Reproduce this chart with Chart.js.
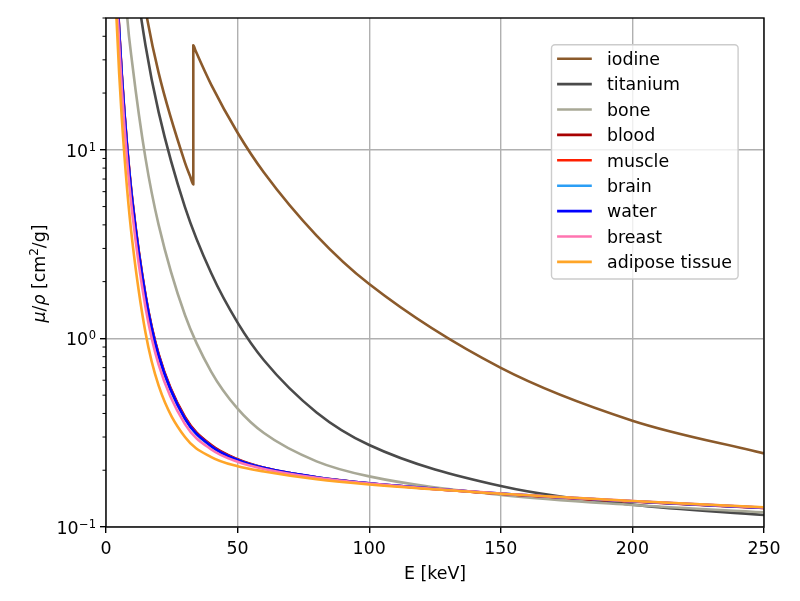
<!DOCTYPE html>
<html>
<head>
<meta charset="utf-8">
<script src="https://cdn.jsdelivr.net/npm/chart.js@4/dist/chart.umd.min.js"></script>
<style>
  html, body { margin: 0; padding: 0; background: #fff; }
  #wrap { width: 800px; height: 601px; position: relative; }
</style>
</head>
<body>
<div id="wrap"><canvas id="chart"></canvas></div>
<script>
// mass attenuation coefficient mu/rho [cm2/g] vs photon energy [keV]
const energy = [3, 4, 5, 6, 8, 10, 15, 20, 30, 40, 50, 60, 80, 100, 150, 200, 250];

// iodine has its K-edge at 33.17 keV, so it gets its own energy grid
const energyIodine = [10, 15, 20, 30, 32, 33.17, 33.17, 34, 40, 50, 60, 80, 100, 150, 200, 250];
const iodine = [162.6, 55.5, 25.59, 8.561, 7.22, 6.55, 35.8, 33.6, 22.1, 12.32, 7.579, 3.51, 1.942, 0.6978, 0.3663, 0.2456];

const titanium = [390, 210, 684, 431, 202, 111, 35.87, 15.85, 4.972, 2.214, 1.213, 0.7661, 0.4052, 0.2721, 0.1649, 0.1314, 0.1158];
const bone     = [330, 160, 270, 160, 51.8, 28.51, 9.032, 4.001, 1.331, 0.6655, 0.4242, 0.3148, 0.2229, 0.1855, 0.148, 0.1309, 0.1197];
const blood    = [184, 84.5, 43.5, 25.1, 10.58, 5.44, 1.706, 0.826, 0.383, 0.2717, 0.2285, 0.2061, 0.1832, 0.1702, 0.1500, 0.1366, 0.1261];
const muscle   = [182, 83.6, 43.0, 24.8, 10.47, 5.38, 1.690, 0.818, 0.379, 0.270, 0.2277, 0.2060, 0.1834, 0.1704, 0.1502, 0.1367, 0.1262];
const brain    = [179, 82.4, 42.4, 24.5, 10.32, 5.30, 1.665, 0.806, 0.374, 0.2675, 0.2265, 0.2057, 0.1837, 0.1707, 0.1505, 0.1370, 0.1265];
const water    = [180, 82.8, 42.6, 24.6, 10.37, 5.329, 1.673, 0.8096, 0.3756, 0.2683, 0.2269, 0.2059, 0.1837, 0.1707, 0.1505, 0.137, 0.1265];
const breast   = [154, 71.0, 36.5, 21.1, 8.91, 4.60, 1.464, 0.726, 0.3512, 0.2578, 0.2217, 0.2032, 0.1823, 0.1699, 0.1504, 0.1373, 0.1268];
const adipose  = [108, 49.5, 25.4, 14.7, 6.25, 3.268, 1.074, 0.5615, 0.2999, 0.235, 0.21, 0.1971, 0.1791, 0.1681, 0.1502, 0.1374, 0.1273];

const xTicks = [0, 50, 100, 150, 200, 250];
const yMajor = [0.1, 1, 10];
const yExp = ["\u22121", "0", "1"];
const yMinor = [0.2, 0.3, 0.4, 0.5, 0.6, 0.7, 0.8, 0.9, 2, 3, 4, 5, 6, 7, 8, 9, 20, 30, 40, 50];

const FONT = "DejaVu Sans";
const series = [
  ["iodine", energyIodine, iodine, "#8b5a2b"],
  ["titanium", energy, titanium, "#4a4a4a"],
  ["bone", energy, bone, "#a8a896"],
  ["blood", energy, blood, "#a80000"],
  ["muscle", energy, muscle, "#ff1f00"],
  ["brain", energy, brain, "#2b9ef5"],
  ["water", energy, water, "#0000ff"],
  ["breast", energy, breast, "#ff74b0"],
  ["adipose tissue", energy, adipose, "#ffa528"],
];

// axis decorations, titles and the in-plot legend, matplotlib style
const frame = {
  id: "frame",
  afterDraw(chart) {
    const { ctx, chartArea: a, scales: { y } } = chart;
    ctx.save();
    ctx.fillStyle = "#000";
    ctx.strokeStyle = "#000";

    // minor y ticks
    ctx.lineWidth = 1;
    yMinor.forEach((v) => {
      const p = y.getPixelForValue(v);
      ctx.beginPath(); ctx.moveTo(a.left - 3.5, p); ctx.lineTo(a.left, p); ctx.stroke();
    });

    // spines
    ctx.lineWidth = 1.4;
    ctx.strokeRect(a.left, a.top, a.right - a.left, a.bottom - a.top);

    // y tick labels: 10 with superscript exponent
    ctx.textAlign = "right"; ctx.textBaseline = "alphabetic";
    yMajor.forEach((v, i) => {
      const p = y.getPixelForValue(v);
      const rx = a.left - 10;
      ctx.font = `11.5px "${FONT}"`;
      const ew = ctx.measureText(yExp[i]).width;
      ctx.fillText(yExp[i], rx, p + 1);
      ctx.font = `17.4px "${FONT}"`;
      ctx.fillText("10", rx - ew - 0.5, p + 7);
    });

    // x title
    ctx.textAlign = "center";
    ctx.font = `17.4px "${FONT}"`;
    ctx.fillText("E [keV]", (a.left + a.right) / 2, a.bottom + 52);

    // y title, rotated, with italic mu/rho and superscript 2
    const parts = [["\u03bc", "italic "], ["/", ""], ["\u03c1", "italic "], [" [cm", ""], ["2", "sup"], ["/g]", ""]];
    const fontOf = (s) => s === "sup" ? `12px "${FONT}"` : `${s}17.4px "${FONT}"`;
    let total = 0;
    parts.forEach(([t, s]) => { ctx.font = fontOf(s); total += ctx.measureText(t).width; });
    ctx.translate(44.5, (a.top + a.bottom) / 2 + 1);
    ctx.rotate(-Math.PI / 2);
    ctx.textAlign = "left";
    let cx = -total / 2;
    parts.forEach(([t, s]) => {
      ctx.font = fontOf(s);
      ctx.fillText(t, cx, s === "sup" ? -7 : 0);
      cx += ctx.measureText(t).width;
    });
    ctx.setTransform(1, 0, 0, 1, 0, 0);

    // legend
    const lx = a.right - 212.5, ly = a.top + 26.7, lw = 186.6, lh = 234.3;
    ctx.beginPath();
    ctx.roundRect(lx, ly, lw, lh, 3.5);
    ctx.fillStyle = "rgba(255,255,255,0.8)"; ctx.fill();
    ctx.strokeStyle = "#cccccc"; ctx.lineWidth = 1.4; ctx.stroke();
    ctx.font = `17.4px "${FONT}"`;
    ctx.textAlign = "left";
    chart.data.datasets.forEach((ds, i) => {
      const ry = ly + 14 + i * 25.4;
      ctx.strokeStyle = ds.borderColor; ctx.lineWidth = 2.6;
      ctx.beginPath(); ctx.moveTo(lx + 5.6, ry); ctx.lineTo(lx + 40.3, ry); ctx.stroke();
      ctx.fillStyle = "#000";
      ctx.fillText(ds.label, lx + 55.5, ry + 6.3);
    });
    ctx.restore();
  },
};

new Chart(document.getElementById("chart"), {
  type: "line",
  data: {
    datasets: series.map(([label, xs, ys, color], i) => ({
      label,
      data: xs.map((e, j) => ({ x: e, y: ys[j] })),
      borderColor: color,
      backgroundColor: color,
      borderWidth: 2.6,
      borderJoinStyle: "round",
      pointRadius: 0,
      cubicInterpolationMode: "monotone",
      fill: false,
      order: series.length - i,
    })),
  },
  options: {
    responsive: true,
    maintainAspectRatio: false,
    animation: false,
    events: [],
    layout: { padding: { top: 18, right: 36, left: 0, bottom: 0 } },
    plugins: { legend: { display: false }, tooltip: { enabled: false } },
    scales: {
      x: {
        type: "linear", min: 0, max: 250,
        afterBuildTicks: (s) => { s.ticks = xTicks.map((v) => ({ value: v })); },
        ticks: { color: "#000", font: { family: FONT, size: 17.4 }, padding: 6, maxRotation: 0 },
        grid: { color: "#b0b0b0", lineWidth: 1.4, tickColor: "#000", tickLength: 6, tickWidth: 1.4 },
        border: { display: false },
        afterFit: (s) => { s.height = 74; },
      },
      y: {
        type: "logarithmic", min: 0.1, max: 50,
        afterBuildTicks: (s) => { s.ticks = yMajor.map((v) => ({ value: v })); },
        ticks: { display: false },
        grid: { color: "#b0b0b0", lineWidth: 1.4, tickColor: "#000", tickLength: 6, tickWidth: 1.4 },
        border: { display: false },
        afterFit: (s) => { s.width = 106; },
      },
    },
  },
  plugins: [frame],
});
</script>
</body>
</html>
